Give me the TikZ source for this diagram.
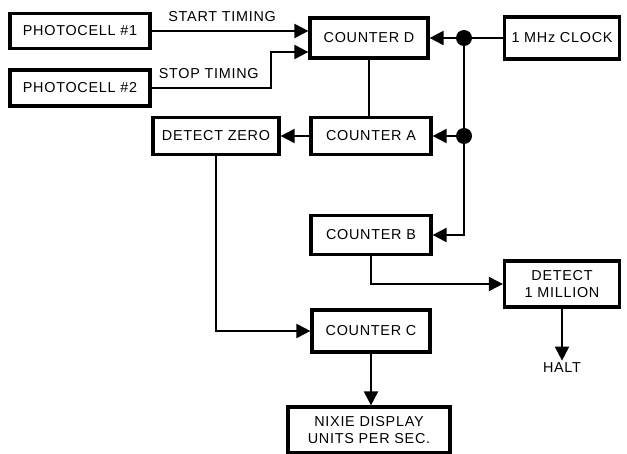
\documentclass[tikz,border=0pt]{standalone}
\usepackage{fontspec}
\setmainfont[LetterSpace=5]{Liberation Sans}
\usetikzlibrary{arrows.meta,calc}
\tikzset{
  blocco/.style={draw, line width=1.6pt, inner sep=0pt, align=center,
    font=\fontsize{7.2}{8.5}\selectfont},
  freccia/.style={line width=1pt, -{Triangle[length=7pt,width=7pt]}},
  linea/.style={line width=1pt},
}
\begin{document}
\begin{tikzpicture}[x=0.5pt,y=-0.5pt]
        \useasboundingbox (0,0) rectangle (627,454);
        % Blocchi
        \node [blocco, minimum width=70pt, minimum height=17.5pt] (pc1) at (80,31) {PHOTOCELL \#1};
        \node [blocco, minimum width=70pt, minimum height=18pt] (pc2) at (80,88) {PHOTOCELL \#2};
        \node [blocco, minimum width=59pt, minimum height=20pt] (ctrD) at (369,38) {COUNTER D};
        \node [blocco, minimum width=57.5pt, minimum height=21pt] (clock) at (562,38) {1 MHz CLOCK};
        \node [blocco, minimum width=63pt, minimum height=18.5pt] (detZero) at (216,136) {DETECT ZERO};
        \node [blocco, minimum width=60pt, minimum height=18.5pt] (ctrA) at (371,136) {COUNTER A};
        \node [blocco, minimum width=60pt, minimum height=19.5pt] (ctrB) at (371,235) {COUNTER B};
        \node [blocco, minimum width=57.5pt, minimum height=23pt] (det1M) at (562,284) {DETECT\\1 MILLION};
        \node [blocco, minimum width=59pt, minimum height=21pt] (ctrC) at (371,331) {COUNTER C};
        \node [blocco, minimum width=81pt, minimum height=23pt] (nixie) at (369,430) {NIXIE DISPLAY\\UNITS PER SEC.};
        \node [font=\fontsize{7.2}{8.5}\selectfont, inner sep=1pt] (halt) at (562,368) {HALT};
        % Punti
        \coordinate (dot1) at (464,38);
        \coordinate (dot2) at (464,136);
        \coordinate (dIn2) at ($(ctrD.west)+(0,14)$);
        \fill (dot1) circle (4pt);
        \fill (dot2) circle (4pt);
        % Collegamenti
        \draw [freccia] (pc1.east) -- (pc1.east -| ctrD.west)
          node [pos=.45, above=1pt, font=\fontsize{7.2}{8.5}\selectfont] {START TIMING};
        \draw [freccia] (pc2.east) -- ++(119,0)
          node [pos=.48, above=1pt, font=\fontsize{7.2}{8.5}\selectfont] {STOP TIMING} |- (dIn2);
        \draw [freccia] (clock.west) -- (dot1) -- (ctrD.east);
        \draw [linea] (dot1) -- (dot2);
        \draw [freccia] (dot2) -- (ctrA.east);
        \draw [freccia] (dot2) |- (ctrB.east);
        \draw [linea] (ctrD.south) -- (ctrD.south |- ctrA.north);
        \draw [freccia] (ctrA.west) -- (detZero.east);
        \draw [freccia] (detZero.south) |- (ctrC.west);
        \draw [freccia] (ctrB.south) |- (det1M.west);
        \draw [freccia] (det1M.south) -- (halt.north);
        \draw [freccia] (ctrC.south) -- (ctrC.south |- nixie.north);
    \end{tikzpicture}
\end{document}
